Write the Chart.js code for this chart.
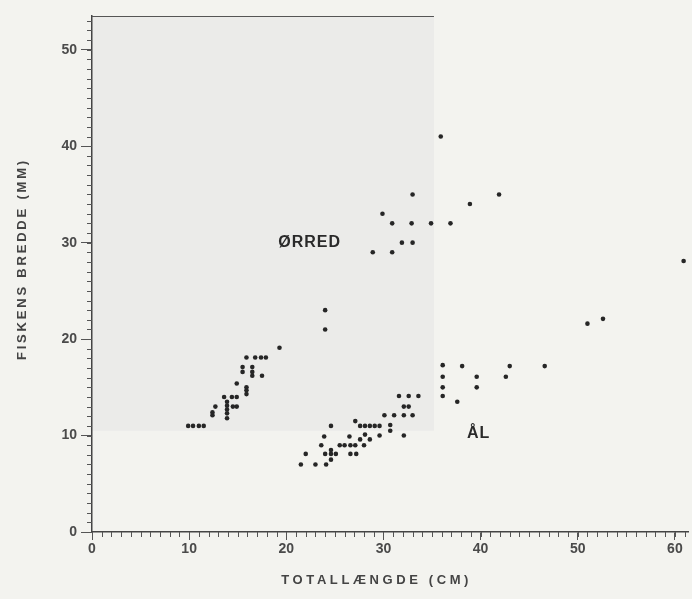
<!DOCTYPE html>
<html>
<head>
<meta charset="utf-8">
<script src="https://cdn.jsdelivr.net/npm/chart.js@4.4.1/dist/chart.umd.min.js"></script>
<style>
  html, body { margin: 0; padding: 0; background: #f3f3ef; }
  #wrap { width: 692px; height: 599px; }
</style>
</head>
<body>
<div id="wrap"><canvas id="c" width="692" height="599"></canvas></div>
<script>
// Ørred (trout): total length (cm) and width (mm)
const troutLength = [9.9,10.4,11.0,11.5, 12.4,12.4,12.7,13.6, 13.9,13.9,13.9,13.9,13.9,
  14.4,14.9,14.5,14.9,14.9, 15.5,15.5,16.5,16.5,16.5,17.5, 15.9,15.9,15.9,
  15.9,16.8,17.4,17.9, 19.3, 24.0,24.0, 28.9,30.9, 31.9,33.0, 30.9,32.9,34.9,36.9,
  29.9, 33.0, 38.9, 41.9, 35.9];
const troutWidth = [11,11,11,11, 12.1,12.4,13.0,14.0, 11.8,12.3,12.7,13.1,13.5,
  14.0,14.0,13.0,13.0,15.4, 17.1,16.6,17.1,16.6,16.2,16.2, 15.0,14.7,14.3,
  18.1,18.1,18.1,18.1, 19.1, 21,23, 29,29, 30,30, 32,32,32,32,
  33, 35, 34, 35, 41];

// Ål (eel): total length (cm) and width (mm)
const eelLength = [21.5,23.0,24.1, 22.0,24.0,24.6,25.1,26.6,27.2, 24.6,24.6,
  23.6,25.5,26.0,26.6,27.1,28.0, 23.9,26.5,28.1,27.6,28.6,29.6,32.1,
  24.6,27.6,28.1,28.6,29.1,29.6,27.1, 30.7,30.7, 30.1,31.1,32.1,33.0,
  32.1,32.6, 31.6,32.6,33.6, 36.1,37.6,36.1,36.1,36.1,38.1, 39.6,39.6,
  42.6,43.0,46.6, 51.0,52.6, 60.9];
const eelWidth = [7.0,7.0,7.0, 8.1,8.1,8.1,8.1,8.1,8.1, 7.5,8.5,
  9.0,9.0,9.0,9.0,9.0,9.0, 9.9,9.9,10.1,9.6,9.6,10.0,10.0,
  11.0,11.0,11.0,11.0,11.0,11.0,11.5, 11.1,10.5, 12.1,12.1,12.1,12.1,
  13.0,13.0, 14.1,14.1,14.1, 14.1,13.5,15.0,16.1,17.3,17.2, 16.1,15.0,
  16.1,17.2,17.2, 21.6,22.1, 28.1];

// Tick values
const xTickValues = [0, 10, 20, 30, 40, 50, 60];
const yTickValues = [0, 10, 20, 30, 40, 50];

const xTitle = 'TOTALLÆNGDE (CM)';
const yTitle = 'FISKENS BREDDE (MM)';
const groupNames = ['ØRRED', 'ÅL'];
const groupNameX = [22.4, 39.8];
const groupNameY = [30.0, 10.2];

const toPoints = (xs, ys) => xs.map((v, i) => ({ x: v, y: ys[i] }));

const ink = '#262626';
const fontFam = '"Liberation Sans", Arial, Helvetica, sans-serif';

const decor = {
  id: 'decor',
  beforeDraw(chart) {
    const { ctx, scales: { x, y } } = chart;
    ctx.save();
    ctx.fillStyle = '#ebebe9';
    const x1 = x.getPixelForValue(35.2);
    const y1 = y.getPixelForValue(10.5);
    ctx.fillRect(x.left, y.top, x1 - x.left, y1 - y.top);
    ctx.restore();
  },
  afterDraw(chart) {
    const { ctx, scales: { x, y } } = chart;
    ctx.save();
    ctx.strokeStyle = '#555';
    ctx.lineWidth = 1;
    // top edge line of the panel
    ctx.beginPath();
    ctx.moveTo(x.left, y.top + 0.5);
    ctx.lineTo(x.getPixelForValue(35.2), y.top + 0.5);
    ctx.stroke();
    // minor ticks
    for (let v = 0; v <= 61; v++) {
      const px = Math.round(x.getPixelForValue(v)) + 0.5;
      ctx.beginPath();
      ctx.moveTo(px, y.bottom);
      ctx.lineTo(px, y.bottom + 5);
      ctx.stroke();
    }
    for (let v = 0; v <= 53; v++) {
      const py = Math.round(y.getPixelForValue(v)) + 0.5;
      ctx.beginPath();
      ctx.moveTo(x.left - 5, py);
      ctx.lineTo(x.left, py);
      ctx.stroke();
    }
    // axis titles
    ctx.fillStyle = '#444';
    ctx.font = 'bold 13px ' + fontFam;
    ctx.letterSpacing = '3.6px';
    ctx.textAlign = 'center';
    ctx.textBaseline = 'middle';
    ctx.fillText(xTitle, x.getPixelForValue(29.3), 580);
    ctx.save();
    ctx.translate(22, y.getPixelForValue(28.3));
    ctx.rotate(-Math.PI / 2);
    ctx.font = 'bold 13px ' + fontFam;
    ctx.letterSpacing = '2.8px';
    ctx.fillText(yTitle, 0, 0);
    ctx.restore();
    // group labels
    ctx.font = 'bold 16px ' + fontFam;
    ctx.letterSpacing = '1px';
    ctx.fillStyle = '#2a2a2a';
    groupNames.forEach((g, i) => {
      ctx.fillText(g, x.getPixelForValue(groupNameX[i]), y.getPixelForValue(groupNameY[i]));
    });
    ctx.restore();
  }
};

new Chart(document.getElementById('c'), {
  type: 'scatter',
  data: {
    datasets: [
      { label: 'Ørred', data: toPoints(troutLength, troutWidth),
        pointRadius: 2.3, pointBackgroundColor: ink, pointBorderWidth: 0 },
      { label: 'Ål', data: toPoints(eelLength, eelWidth),
        pointRadius: 2.3, pointBackgroundColor: ink, pointBorderWidth: 0 }
    ]
  },
  options: {
    responsive: false,
    animation: false,
    devicePixelRatio: 1,
    layout: { padding: { top: 16, right: 0, left: 0, bottom: 0 } },
    plugins: { legend: { display: false }, tooltip: { enabled: false } },
    scales: {
      x: {
        type: 'linear', min: 0, max: 61.35,
        afterFit(s) { s.height = 67; },
        afterBuildTicks(s) { s.ticks = xTickValues.map(v => ({ value: v })); },
        ticks: { color: '#4a4a4a', padding: 1,
          font: { family: fontFam, size: 14, weight: 'bold' } },
        grid: { drawOnChartArea: false, drawTicks: true, tickLength: 8, color: '#555' },
        border: { display: true, color: '#444', width: 1.5 }
      },
      y: {
        type: 'linear', min: 0, max: 53.5,
        afterFit(s) { s.width = 92; },
        afterBuildTicks(s) { s.ticks = yTickValues.map(v => ({ value: v })); },
        ticks: { color: '#4a4a4a', padding: 4,
          font: { family: fontFam, size: 14, weight: 'bold' } },
        grid: { drawOnChartArea: false, drawTicks: true, tickLength: 11, color: '#555' },
        border: { display: true, color: '#444', width: 1.5 }
      }
    }
  },
  plugins: [decor]
});
</script>
</body>
</html>
